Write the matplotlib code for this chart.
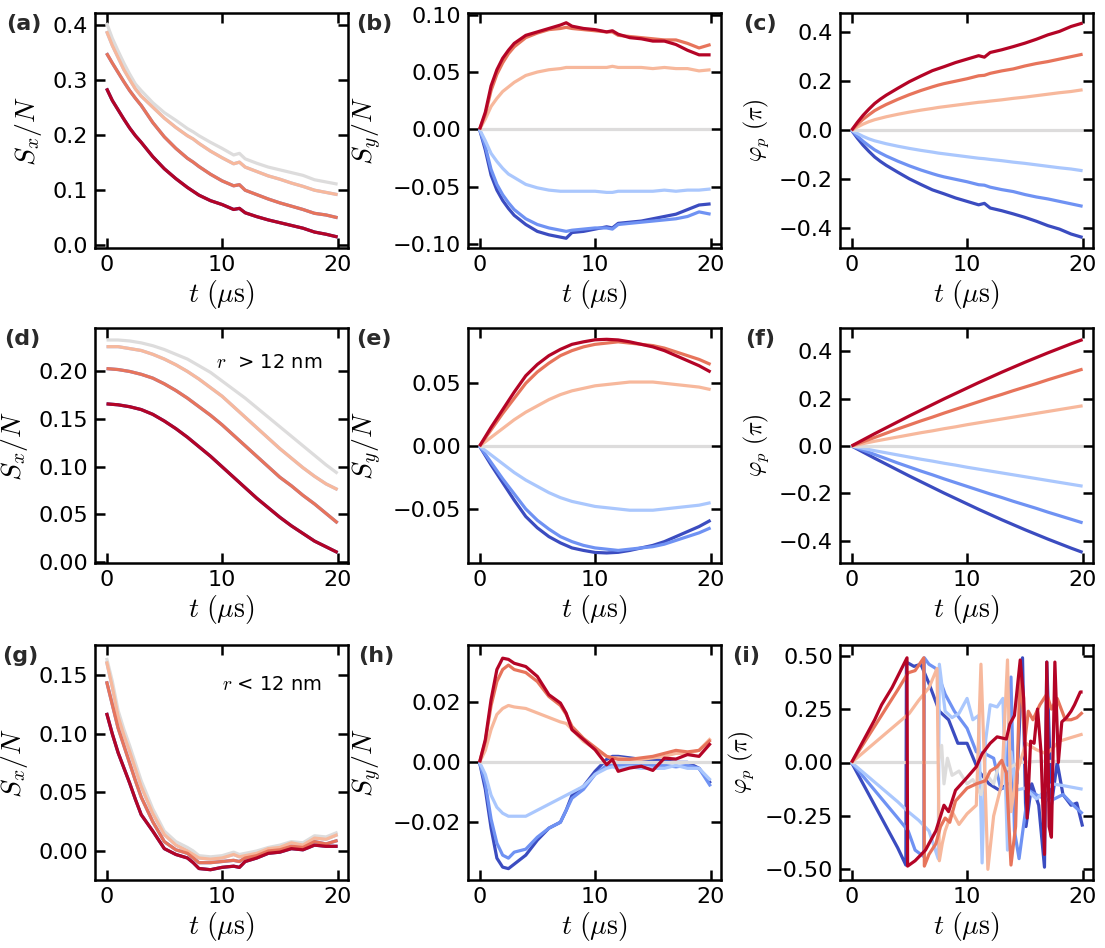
import numpy as np
import matplotlib
matplotlib.use('Agg')
import matplotlib.pyplot as plt
from matplotlib.ticker import MultipleLocator

plt.rcParams['mathtext.fontset'] = 'cm'
plt.rcParams['font.family'] = 'DejaVu Sans'

# time grids (us)
t_noisy = [0, 0.5, 1, 1.5, 2, 2.5, 3, 4, 5, 6, 7, 7.5, 8, 9, 10, 11,
           11.5, 12, 13, 14, 15, 16, 17, 18, 19, 20]
t_smooth = [0, 1, 2, 3, 4, 5, 6, 7, 8, 9, 10, 11, 12, 13, 14, 15, 16, 17, 18, 19, 20]
t_flat = [0, 20]
flat_zero = [0.0, 0.0]

# ---- (a) Sx/N, full data (blue curves coincide with red ones)
sx_a_gray = [0.403, 0.375, 0.352, 0.330, 0.310, 0.292, 0.280, 0.258, 0.240, 0.226, 0.211,
             0.205, 0.198, 0.186, 0.175, 0.163, 0.166, 0.156, 0.148, 0.141, 0.136,
             0.131, 0.126, 0.118, 0.114, 0.110]
sx_a_1 = [0.388, 0.362, 0.340, 0.318, 0.300, 0.283, 0.270, 0.250, 0.230, 0.213, 0.198,
          0.192, 0.184, 0.170, 0.158, 0.147, 0.150, 0.141, 0.133, 0.125, 0.119,
          0.112, 0.106, 0.099, 0.095, 0.091]
sx_a_2 = [0.348, 0.330, 0.313, 0.296, 0.280, 0.266, 0.253, 0.222, 0.196, 0.175, 0.157,
          0.150, 0.142, 0.128, 0.116, 0.107, 0.109, 0.099, 0.091, 0.083, 0.076,
          0.070, 0.064, 0.057, 0.054, 0.049]
sx_a_3 = [0.284, 0.262, 0.245, 0.228, 0.212, 0.198, 0.186, 0.160, 0.138, 0.120, 0.104,
          0.097, 0.090, 0.080, 0.073, 0.064, 0.066, 0.058, 0.051, 0.045, 0.040,
          0.035, 0.030, 0.023, 0.019, 0.014]

# ---- (b) Sy/N, full data
sy_b_r3 = [0, 0.015, 0.038, 0.052, 0.062, 0.069, 0.075, 0.082, 0.085, 0.088, 0.091,
           0.093, 0.090, 0.088, 0.087, 0.085, 0.086, 0.083, 0.080, 0.079, 0.077,
           0.077, 0.074, 0.069, 0.065, 0.065]
sy_b_r2 = [0, 0.013, 0.034, 0.048, 0.058, 0.066, 0.072, 0.080, 0.084, 0.087, 0.088,
           0.089, 0.088, 0.087, 0.086, 0.085, 0.085, 0.082, 0.081, 0.080, 0.079,
           0.078, 0.078, 0.075, 0.071, 0.074]
sy_b_r1 = [0, 0.009, 0.020, 0.027, 0.033, 0.037, 0.041, 0.047, 0.050, 0.052, 0.053,
           0.054, 0.054, 0.054, 0.054, 0.054, 0.055, 0.054, 0.054, 0.054, 0.053,
           0.054, 0.053, 0.053, 0.051, 0.052]
sy_b_b1 = [0, -0.010, -0.021, -0.028, -0.034, -0.039, -0.042, -0.048, -0.051, -0.053, -0.054,
           -0.054, -0.054, -0.054, -0.054, -0.055, -0.055, -0.054, -0.054, -0.054, -0.054,
           -0.053, -0.054, -0.053, -0.053, -0.052]
sy_b_b2 = [0, -0.015, -0.035, -0.048, -0.057, -0.064, -0.070, -0.078, -0.083, -0.086, -0.088,
           -0.089, -0.088, -0.087, -0.086, -0.086, -0.087, -0.083, -0.082, -0.081, -0.080,
           -0.079, -0.078, -0.076, -0.072, -0.074]
sy_b_b3 = [0, -0.018, -0.040, -0.053, -0.062, -0.069, -0.075, -0.083, -0.089, -0.092, -0.094,
           -0.095, -0.090, -0.089, -0.087, -0.085, -0.086, -0.082, -0.081, -0.080, -0.078,
           -0.076, -0.074, -0.070, -0.066, -0.065]

# ---- (c) phase (pi), full data (blue = mirror of red)
ph_c_3 = [0, 0.032, 0.061, 0.086, 0.109, 0.127, 0.143, 0.171, 0.198, 0.221, 0.243,
          0.251, 0.259, 0.276, 0.290, 0.304, 0.298, 0.317, 0.328, 0.341, 0.355,
          0.371, 0.389, 0.403, 0.423, 0.437]
ph_c_2 = [0, 0.024, 0.045, 0.063, 0.080, 0.093, 0.105, 0.126, 0.145, 0.162, 0.177,
          0.184, 0.190, 0.200, 0.210, 0.222, 0.224, 0.232, 0.242, 0.250, 0.262,
          0.272, 0.280, 0.290, 0.300, 0.310]
ph_c_1 = [0, 0.013, 0.025, 0.035, 0.043, 0.049, 0.055, 0.065, 0.074, 0.082, 0.089,
          0.093, 0.096, 0.102, 0.108, 0.114, 0.116, 0.119, 0.124, 0.130, 0.135,
          0.141, 0.147, 0.153, 0.158, 0.165]

# ---- (d) Sx/N, r > 12 nm
sx_d_gray = [0.233, 0.233, 0.232, 0.230, 0.227, 0.223, 0.218, 0.213, 0.206, 0.199, 0.190,
             0.181, 0.172, 0.162, 0.152, 0.142, 0.132, 0.122, 0.112, 0.102, 0.093]
sx_d_1 = [0.226, 0.226, 0.224, 0.222, 0.218, 0.213, 0.207, 0.200, 0.192, 0.183, 0.174,
          0.163, 0.152, 0.141, 0.130, 0.119, 0.109, 0.099, 0.090, 0.082, 0.076]
sx_d_2 = [0.203, 0.202, 0.200, 0.197, 0.193, 0.187, 0.180, 0.172, 0.163, 0.154, 0.144,
          0.133, 0.122, 0.111, 0.100, 0.089, 0.080, 0.070, 0.061, 0.051, 0.041]
sx_d_3 = [0.166, 0.165, 0.163, 0.160, 0.155, 0.148, 0.140, 0.131, 0.121, 0.111, 0.100,
          0.089, 0.078, 0.067, 0.057, 0.047, 0.038, 0.030, 0.022, 0.016, 0.010]

# ---- (e) Sy/N, r > 12 nm (blue = mirror of red)
sy_e_3 = [0, 0.015, 0.029, 0.043, 0.056, 0.065, 0.072, 0.077, 0.081, 0.083, 0.0846,
          0.085, 0.0845, 0.083, 0.081, 0.079, 0.076, 0.072, 0.068, 0.064, 0.059]
sy_e_2 = [0, 0.013, 0.026, 0.038, 0.050, 0.059, 0.066, 0.072, 0.076, 0.079, 0.081,
          0.082, 0.083, 0.082, 0.081, 0.080, 0.078, 0.075, 0.072, 0.069, 0.065]
sy_e_1 = [0, 0.007, 0.014, 0.021, 0.027, 0.032, 0.037, 0.041, 0.044, 0.046, 0.048,
          0.049, 0.050, 0.051, 0.051, 0.051, 0.050, 0.049, 0.048, 0.047, 0.045]

# ---- (f) phase, r > 12 nm (blue = mirror of red)
ph_f_3 = [0, 0.026, 0.052, 0.077, 0.102, 0.127, 0.151, 0.175, 0.199, 0.222, 0.245,
          0.268, 0.290, 0.312, 0.333, 0.354, 0.374, 0.394, 0.413, 0.432, 0.450]
ph_f_2 = [0, 0.018, 0.036, 0.054, 0.072, 0.089, 0.106, 0.122, 0.139, 0.155, 0.171,
          0.187, 0.203, 0.218, 0.234, 0.249, 0.264, 0.280, 0.295, 0.310, 0.325]
ph_f_1 = [0, 0.010, 0.020, 0.029, 0.038, 0.047, 0.056, 0.064, 0.073, 0.081, 0.090,
          0.098, 0.106, 0.114, 0.122, 0.130, 0.138, 0.146, 0.154, 0.162, 0.170]

# ---- (g) Sx/N, r < 12 nm
sx_g_gray = [0.165, 0.145, 0.120, 0.104, 0.090, 0.075, 0.060, 0.036, 0.017, 0.008, 0.003,
             0.000, -0.004, -0.005, -0.004, -0.001, -0.003, -0.002, 0.000, 0.003, 0.005,
             0.008, 0.007, 0.013, 0.012, 0.016]
sx_g_1 = [0.162, 0.140, 0.115, 0.099, 0.085, 0.070, 0.055, 0.032, 0.014, 0.005, 0.000,
          -0.003, -0.006, -0.007, -0.006, -0.003, -0.005, -0.004, -0.002, 0.002, 0.003,
          0.007, 0.005, 0.011, 0.010, 0.014]
sx_g_2 = [0.145, 0.125, 0.105, 0.090, 0.075, 0.060, 0.046, 0.025, 0.008, 0.001, -0.002,
          -0.006, -0.010, -0.010, -0.009, -0.008, -0.009, -0.006, -0.004, 0.000, 0.001,
          0.004, 0.003, 0.008, 0.006, 0.009]
sx_g_3 = [0.118, 0.100, 0.084, 0.071, 0.058, 0.044, 0.031, 0.017, 0.002, -0.003, -0.006,
          -0.010, -0.015, -0.016, -0.014, -0.013, -0.014, -0.009, -0.006, -0.002, -0.001,
          0.002, 0.001, 0.005, 0.004, 0.004]

# ---- (h) Sy/N, r < 12 nm
sy_h_r3 = [0, 0.0076, 0.0210, 0.0310, 0.0348, 0.0344, 0.0331, 0.0320, 0.0287, 0.0226, 0.0198,
           0.0164, 0.0109, 0.0076, 0.0042, -0.0008, 0.0010, -0.0030, -0.0019, -0.0013, -0.0027,
           0.0014, 0.0011, 0.0026, 0.0020, 0.0064]
sy_h_r2 = [0, 0.0070, 0.0190, 0.0270, 0.0310, 0.0325, 0.0310, 0.0300, 0.0270, 0.0220, 0.0190,
           0.0160, 0.0120, 0.0080, 0.0050, 0.0020, 0.0015, 0.0010, 0.0010, 0.0015, 0.0020,
           0.0030, 0.0040, 0.0035, 0.0040, 0.0075]
sy_h_r1 = [0, 0.004, 0.011, 0.016, 0.018, 0.019, 0.0185, 0.018, 0.0165, 0.015, 0.0135,
           0.013, 0.011, 0.007, 0.0045, 0.002, 0.0015, 0.0015, 0.001, 0.001, 0.0015,
           0.002, 0.003, 0.003, 0.004, 0.008]
sy_h_b1 = [0, -0.004, -0.011, -0.015, -0.017, -0.018, -0.018, -0.018, -0.016, -0.014, -0.012,
           -0.011, -0.010, -0.008, -0.004, -0.002, -0.0015, -0.002, -0.0015, -0.002, -0.002,
           -0.002, -0.001, -0.002, -0.002, -0.006]
sy_h_b2 = [0, -0.007, -0.019, -0.027, -0.031, -0.032, -0.030, -0.029, -0.025, -0.022, -0.020,
           -0.016, -0.012, -0.009, -0.004, -0.001, -0.001, -0.001, -0.001, -0.0005, -0.001,
           -0.001, -0.0015, -0.001, -0.002, -0.008]
sy_h_b3 = [0, -0.009, -0.022, -0.032, -0.035, -0.0355, -0.034, -0.031, -0.026, -0.022, -0.020,
           -0.016, -0.011, -0.008, -0.003, 0.001, 0.002, 0.002, 0.0015, 0.001, 0.001,
           0.0005, 0.0, 0.0, -0.002, -0.007]

# ---- (i) phase, r < 12 nm (wrapped, each curve on its own time samples)
t_i_r3 = [0, 1, 2, 2.6, 3.5, 4.8, 4.85, 5.5, 6.4, 7.3, 8, 8.4, 9, 10, 10.8, 11.3, 12, 12.6,
          13.4, 13.7, 14.1, 14.6, 14.9, 15.2, 15.5, 15.8, 16.1, 16.4, 16.7, 16.9, 17.1,
          17.3, 17.6, 17.9, 18.2, 18.6, 19, 19.3, 19.8, 20]
ph_i_r3 = [0, 0.1, 0.2, 0.27, 0.35, 0.49, -0.485, -0.46, -0.41, -0.32, -0.2, -0.23, -0.13,
           -0.07, -0.02, 0.04, 0.09, 0.12, 0.11, 0.18, 0.22, 0.48, 0.3, -0.26, 0.1, 0.09,
           0.25, 0.05, -0.43, 0.47, -0.3, -0.35, 0.47, 0.0, 0.19, 0.21, 0.24, 0.27, 0.33, 0.33]
t_i_r2 = [0, 1, 2, 3, 4, 4.9, 5.5, 6.25, 6.3, 6.7, 7.3, 7.7, 8.1, 8.5, 9, 10, 10.8, 11.6,
          12, 12.6, 13, 13.4, 13.8, 14.2, 14.6, 15, 15.3, 15.7, 16.3, 16.9, 17.3, 17.8,
          18.5, 19, 19.5, 20]
ph_i_r2 = [0, 0.085, 0.17, 0.255, 0.34, 0.42, 0.43, 0.49, -0.485, -0.43, -0.38, -0.3, -0.26,
           -0.28, -0.18, -0.12, -0.1, -0.085, -0.04, -0.02, 0.01, -0.05, -0.48, -0.3, 0.45,
           0.1, 0.24, 0.2, 0.27, 0.32, 0.25, 0.3, 0.2, 0.2, 0.21, 0.235]
t_i_r1 = [0, 1, 2, 3, 4, 5, 5.8, 6.7, 7.4, 7.6, 7.85, 8.1, 8.7, 9.3, 10, 10.8, 11.2, 11.5,
          11.8, 12.3, 13, 13.5, 13.8, 14.3, 15.1, 16, 16.9, 18, 19.2, 20]
ph_i_r1 = [0, 0.046, 0.092, 0.138, 0.184, 0.23, 0.29, 0.35, 0.44, -0.46, -0.38, -0.32, -0.23,
           -0.29, -0.24, -0.2, 0.46, 0.0, -0.5, -0.25, -0.1, 0.48, -0.23, -0.05, 0.09, 0.06,
           0.04, 0.1, 0.12, 0.133]
t_i_gray = [0, 7.5, 7.8, 8.0, 8.3, 8.7, 9.3, 10, 10.5, 11.2, 11.6, 12.3, 12.8, 13.5, 14.5,
            16, 18, 20]
ph_i_gray = [0, 0.0, 0.08, -0.1, 0.02, -0.06, -0.04, -0.1, -0.08, -0.15, -0.05, -0.1, 0.0,
             -0.03, 0.0, 0.005, 0.005, 0.005]
t_i_b1 = [0, 1, 2, 3, 4, 4.9, 5.8, 6.7, 7.5, 7.6, 8.1, 8.7, 9.3, 10, 10.5, 11, 11.3, 11.6,
          12, 12.6, 13.1, 13.5, 13.8, 14.2, 15, 16, 17.4, 18.5, 20]
ph_i_b1 = [0, -0.046, -0.092, -0.138, -0.184, -0.23, -0.27, -0.32, -0.45, 0.46, 0.24, 0.21,
           0.23, 0.3, 0.2, 0.22, -0.47, 0.1, 0.27, 0.26, 0.3, -0.41, 0.05, -0.13, -0.12,
           -0.17, -0.1, -0.11, -0.125]
t_i_b2 = [0, 1, 2, 3, 4, 4.9, 5.5, 6.25, 6.3, 6.7, 7.3, 7.7, 8.1, 8.9, 10, 10.8, 11.6, 12.3,
          12.9, 13.4, 13.8, 14.1, 14.5, 15.3, 16.3, 17.2, 18.3, 19.2, 20]
ph_i_b2 = [0, -0.065, -0.13, -0.195, -0.26, -0.32, -0.41, -0.44, 0.49, 0.46, 0.44, 0.38,
           0.32, 0.24, 0.16, 0.05, 0.04, 0.02, -0.12, -0.12, 0.4, -0.32, -0.45, -0.13,
           -0.16, -0.18, -0.15, -0.2, -0.24]
t_i_b3 = [0, 1, 2, 3, 4, 4.7, 4.75, 5.4, 6, 6.7, 7.6, 8.4, 9.2, 10, 11, 11.9, 12.8, 13.5,
          14.3, 14.8, 15.1, 15.6, 16.2, 16.7, 16.9, 17.3, 17.8, 18.3, 19, 19.5, 20]
ph_i_b3 = [0, -0.1, -0.2, -0.3, -0.4, -0.48, 0.47, 0.45, 0.46, 0.37, 0.24, 0.2, 0.09, 0.09,
           -0.04, -0.1, -0.13, -0.1, -0.1, 0.49, -0.3, -0.1, -0.2, -0.49, 0.47, -0.2, 0.0,
           -0.15, -0.2, -0.19, -0.3]

# ---------------------------------------------------------------- style
colors = plt.cm.coolwarm(np.linspace(0, 1, 7))  # dark blue ... gray ... dark red
W, H = 1105, 948
col_left = [95, 468, 840]
row_top = [13, 328, 645]
ax_w, ax_h = 253, 235
lw = 2.3

fig = plt.figure(figsize=(W / 100, H / 100), dpi=100)
axes = []
for r in range(3):
    for c in range(3):
        ax = fig.add_axes([col_left[c] / W, 1 - (row_top[r] + ax_h) / H, ax_w / W, ax_h / H])
        axes.append(ax)
ax_a, ax_b, ax_c, ax_d, ax_e, ax_f, ax_g, ax_h, ax_i = axes


def draw(ax, ts, ys):
    for k, (t, y) in enumerate(zip(ts, ys)):
        ax.plot(t, y, color=colors[k], lw=lw, solid_capstyle='butt')


# (a)
draw(ax_a, [t_noisy] * 7,
     [sx_a_3, sx_a_2, sx_a_1, sx_a_gray, sx_a_1, sx_a_2, sx_a_3])
# (b)
draw(ax_b, [t_noisy, t_noisy, t_noisy, t_flat, t_noisy, t_noisy, t_noisy],
     [sy_b_b3, sy_b_b2, sy_b_b1, flat_zero, sy_b_r1, sy_b_r2, sy_b_r3])
# (c)
draw(ax_c, [t_noisy, t_noisy, t_noisy, t_flat, t_noisy, t_noisy, t_noisy],
     [-np.array(ph_c_3), -np.array(ph_c_2), -np.array(ph_c_1), flat_zero,
      ph_c_1, ph_c_2, ph_c_3])
# (d)
draw(ax_d, [t_smooth] * 7,
     [sx_d_3, sx_d_2, sx_d_1, sx_d_gray, sx_d_1, sx_d_2, sx_d_3])
# (e)
draw(ax_e, [t_smooth, t_smooth, t_smooth, t_flat, t_smooth, t_smooth, t_smooth],
     [-np.array(sy_e_3), -np.array(sy_e_2), -np.array(sy_e_1), flat_zero,
      sy_e_1, sy_e_2, sy_e_3])
# (f)
draw(ax_f, [t_smooth, t_smooth, t_smooth, t_flat, t_smooth, t_smooth, t_smooth],
     [-np.array(ph_f_3), -np.array(ph_f_2), -np.array(ph_f_1), flat_zero,
      ph_f_1, ph_f_2, ph_f_3])
# (g)
draw(ax_g, [t_noisy] * 7,
     [sx_g_3, sx_g_2, sx_g_1, sx_g_gray, sx_g_1, sx_g_2, sx_g_3])
# (h)
draw(ax_h, [t_noisy, t_noisy, t_noisy, t_flat, t_noisy, t_noisy, t_noisy],
     [sy_h_b3, sy_h_b2, sy_h_b1, flat_zero, sy_h_r1, sy_h_r2, sy_h_r3])
# (i)
draw(ax_i, [t_i_b3, t_i_b2, t_i_b1, t_i_gray, t_i_r1, t_i_r2, t_i_r3],
     [ph_i_b3, ph_i_b2, ph_i_b1, ph_i_gray, ph_i_r1, ph_i_r2, ph_i_r3])

ylims = [(-0.006, 0.421), (-0.1035, 0.1015), (-0.48, 0.478),
         (-0.001, 0.2456), (-0.093, 0.094), (-0.495, 0.499),
         (-0.0248, 0.176), (-0.0393, 0.0392), (-0.55, 0.55)]
ysteps = [0.1, 0.05, 0.2, 0.05, 0.05, 0.2, 0.05, 0.02, 0.25]
ylabels = [r'$S_x/N$', r'$S_y/N$', r'$\varphi_p\ (\pi)$'] * 3
letters = ['(a)', '(b)', '(c)', '(d)', '(e)', '(f)', '(g)', '(h)', '(i)']
letter_x = [6, 356, 743, 4, 356, 745, 2, 358, 732]

for k, ax in enumerate(axes):
    ax.set_xlim(-1.0, 20.9)
    ax.set_ylim(*ylims[k])
    ax.xaxis.set_major_locator(MultipleLocator(10))
    ax.yaxis.set_major_locator(MultipleLocator(ysteps[k]))
    ax.tick_params(direction='in', top=True, right=True, length=7, width=1.8,
                   labelsize=16, pad=5)
    for s in ax.spines.values():
        s.set_linewidth(1.8)
    ax.set_xlabel(r'$t\ (\mu\mathrm{s})$', fontsize=20, labelpad=2)
    fs = 17 if k % 3 == 2 else 20
    ax.set_ylabel(ylabels[k], fontsize=fs, labelpad=6)
    r = k // 3
    fig.text(letter_x[k] / W, 1 - (row_top[r] + 1) / H, letters[k], fontsize=16,
             fontweight='bold', color='#2a2a2a', va='top', ha='left')

ax_d.text(0.897, 0.855, r'$r$  > 12 nm', transform=ax_d.transAxes,
          ha='right', va='center', fontsize=14)
ax_g.text(0.897, 0.83, r'$r$ < 12 nm', transform=ax_g.transAxes,
          ha='right', va='center', fontsize=14)

fig.savefig('out.png', dpi=100)
